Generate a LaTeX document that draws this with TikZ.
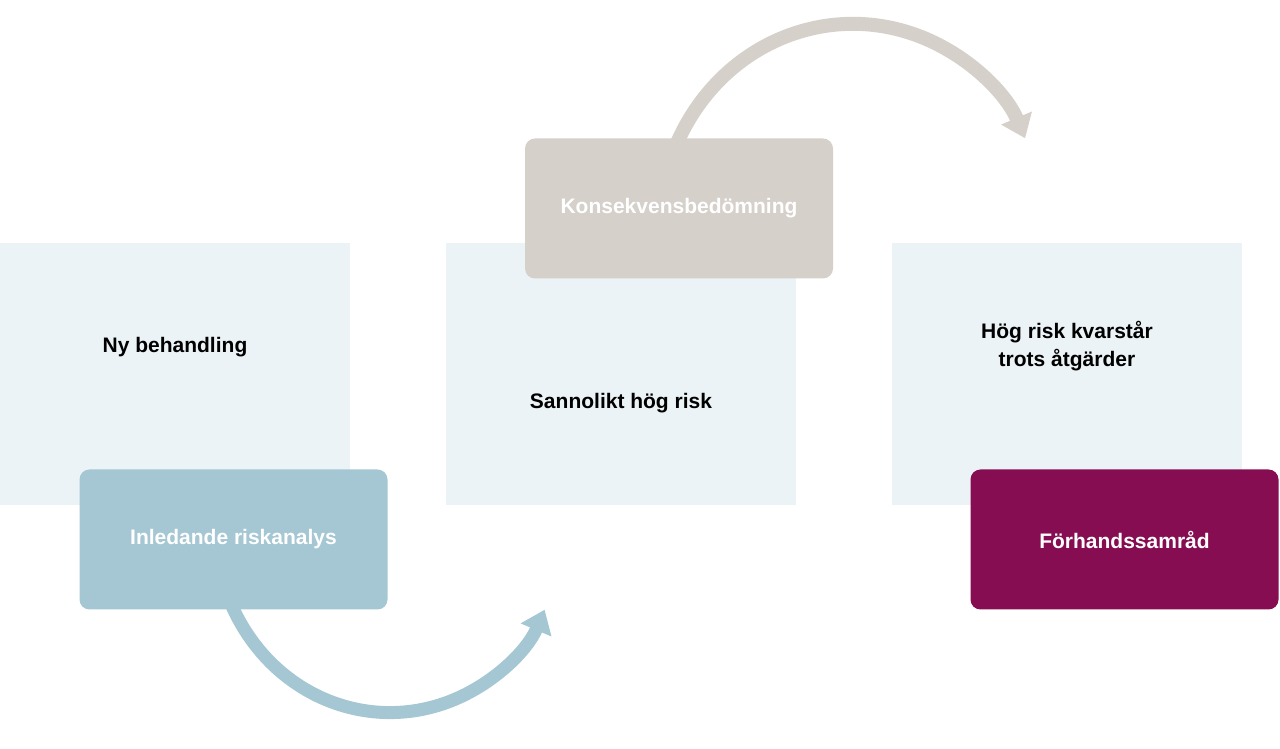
\documentclass[tikz,border=0pt]{standalone}
\usepackage{fontspec}
\setmainfont{Liberation Sans}
\usetikzlibrary{positioning,arrows.meta,backgrounds}

\definecolor{areafill}{HTML}{EBF3F6}
\definecolor{stepblue}{HTML}{A4C7D3}
\definecolor{stepsand}{HTML}{D6D0CB}
\definecolor{stepplum}{HTML}{870D52}

\begin{document}
\begin{tikzpicture}[
		x=1pt, y=1pt,
		every node/.style={
			font=\fontsize{21}{28}\selectfont\bfseries,
			align=center
		},
		area/.style={fill=areafill, minimum width=350pt, minimum height=262pt, inner sep=0pt},
		stepbox/.style={rounded corners=10pt, minimum width=308pt, minimum height=140pt, inner sep=0pt, text=white},
		flow/.style={line width=13pt, shorten <=-8pt, -{Triangle[width=32pt,length=22pt]}}
		]
		
		\useasboundingbox (0,0) rectangle (1280,749);
		
		%--------------------------------------------------
		% Background areas
		%--------------------------------------------------
		
		\node[area] (ny)   at (175,375)  {};
		\node[area] (sann) at (621,375)  {};
		\node[area] (hog)  at (1067,375) {};
		
		\node (nytext)   at ([yshift=27pt]ny.center)   {Ny behandling};
		\node (sanntext) at ([yshift=-29pt]sann.center) {Sannolikt hög risk};
		\node (hogtext)  at ([yshift=28pt]hog.center)  {Hög risk kvarstår\\trots åtgärder};
		
		%--------------------------------------------------
		% Steps
		%--------------------------------------------------
		
		\node[stepbox, fill=stepblue] (inl)  at (233.5,209.5) {Inledande riskanalys};
		\node[stepbox, fill=stepsand] (kons) at (679,540.5)   {Konsekvensbedömning};
		\node[stepbox, fill=stepplum] (forh) at (1124.5,209.5) {Förhandssamråd};
		
		%--------------------------------------------------
		% Arrows
		%--------------------------------------------------
		
		\begin{scope}[on background layer]
			\draw[flow, stepblue] (inl.south) arc[start angle=203, end angle=337, radius=169];
			\draw[flow, stepsand, line width=14pt] (kons.north) arc[start angle=157, end angle=23, radius=188];
		\end{scope}
		
	\end{tikzpicture}
\end{document}
